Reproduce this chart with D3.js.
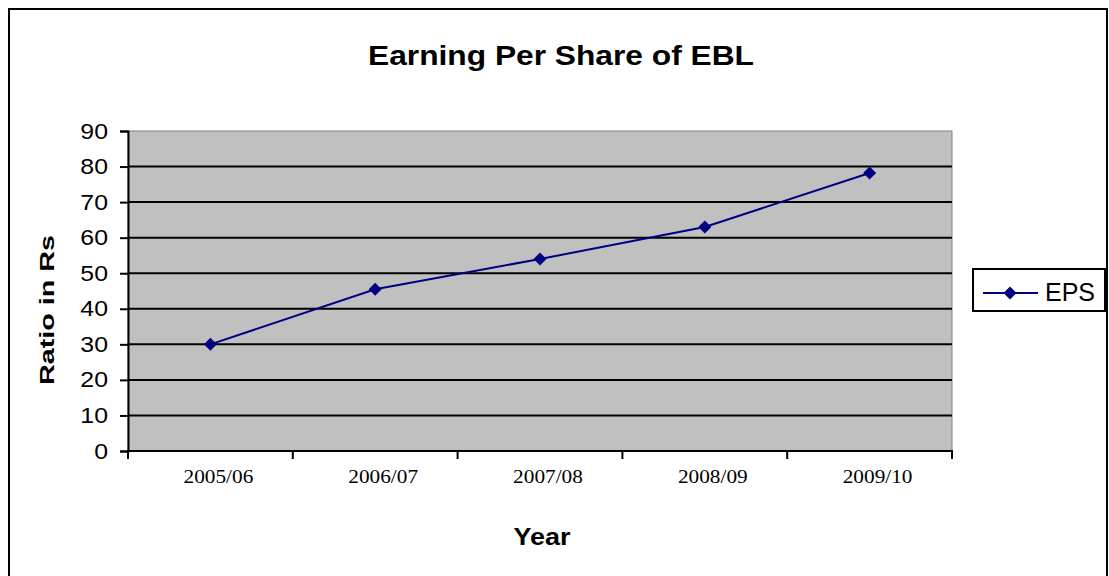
<!DOCTYPE html>
<html lang="en">
<head>
    <meta charset="UTF-8">
    <title>Earning Per Share of EBL</title>
    <script src="https://d3js.org/d3.v7.min.js"></script>
    <style>
        body { margin: 0; background: #fff; }
        svg { display: block; }
        .grid line { stroke: #000; stroke-width: 2px; }
        .line { fill: none; stroke: #000080; stroke-width: 2px; }
    </style>
</head>
<body>
    <svg width="1109" height="576"></svg>

    <script>
        // chart data
        const years = ["2005/06", "2006/07", "2007/08", "2008/09", "2009/10"];
        const eps = [30, 45.5, 54, 63, 78.2];
        const yTickValues = [0, 10, 20, 30, 40, 50, 60, 70, 80, 90];
        const seriesName = "EPS";

        const sans = "'Liberation Sans', Arial, sans-serif";
        const serif = "'Liberation Serif', 'Times New Roman', serif";

        const plot = { left: 128, top: 131, right: 952, bottom: 451 };

        // the original picture is a bit wider than it is tall, so text gets stretched
        function stretch(sel, k) {
            sel.each(function () {
                const w = this.getComputedTextLength();
                d3.select(this).attr("textLength", w * k).attr("lengthAdjust", "spacingAndGlyphs");
            });
        }

        const svg = d3.select("svg");

        // outer chart border
        svg.append("rect")
            .attr("x", 9).attr("y", 9)
            .attr("width", 1098).attr("height", 580)
            .attr("fill", "#fff")
            .attr("stroke", "#000").attr("stroke-width", 2);

        const x = d3.scaleBand().domain(years).range([plot.left, plot.right]);
        const y = d3.scaleLinear().domain([0, 90]).range([plot.bottom, plot.top]);

        // plot area
        svg.append("rect")
            .attr("x", plot.left).attr("y", plot.top)
            .attr("width", plot.right - plot.left)
            .attr("height", plot.bottom - plot.top)
            .attr("fill", "#c0c0c0")
            .attr("stroke", "#808080").attr("stroke-width", 1);

        // gridlines
        svg.append("g").attr("class", "grid")
            .selectAll("line")
            .data(yTickValues.filter(d => d > 0 && d < 90))
            .join("line")
            .attr("x1", plot.left).attr("x2", plot.right)
            .attr("y1", d => y(d)).attr("y2", d => y(d));

        // y axis
        const yAxis = svg.append("g")
            .attr("transform", `translate(${plot.left},0)`)
            .call(d3.axisLeft(y).tickValues(yTickValues).tickSize(8).tickPadding(12));
        yAxis.select(".domain").attr("stroke", "#000").attr("stroke-width", 2);
        yAxis.selectAll(".tick line").attr("stroke", "#000").attr("stroke-width", 2);
        yAxis.selectAll(".tick text")
            .attr("font-family", sans).attr("font-size", 22).attr("fill", "#000")
            .call(stretch, 1.13);

        // x axis line and category boundary ticks
        const xAxis = svg.append("g");
        xAxis.append("line")
            .attr("x1", plot.left - 1).attr("x2", plot.right + 1)
            .attr("y1", plot.bottom).attr("y2", plot.bottom)
            .attr("stroke", "#000").attr("stroke-width", 2);
        const bounds = years.map(d => x(d)).concat([x.range()[1]]);
        xAxis.selectAll(".xtick")
            .data(bounds)
            .join("line")
            .attr("class", "xtick")
            .attr("x1", d => d).attr("x2", d => d)
            .attr("y1", plot.bottom).attr("y2", plot.bottom + 8)
            .attr("stroke", "#000").attr("stroke-width", 2);
        xAxis.selectAll(".xlabel")
            .data(years)
            .join("text")
            .attr("class", "xlabel")
            .attr("x", d => x(d) + x.bandwidth() / 2 + 8)
            .attr("y", plot.bottom + 32)
            .attr("text-anchor", "middle")
            .attr("font-family", serif).attr("font-size", 19)
            .text(d => d)
            .call(stretch, 1.12);

        // line + markers
        const pts = years.map((d, i) => ({ year: d, value: eps[i] }));
        const line = d3.line()
            .x(d => x(d.year) + x.bandwidth() / 2)
            .y(d => y(d.value));
        svg.append("path")
            .datum(pts)
            .attr("class", "line")
            .attr("d", line);

        const marker = d3.symbol().type(d3.symbolSquare).size(85);
        svg.append("g").selectAll("path")
            .data(pts)
            .join("path")
            .attr("transform", d => `translate(${x(d.year) + x.bandwidth() / 2},${y(d.value)}) rotate(45)`)
            .attr("d", marker)
            .attr("fill", "#000080");

        // titles
        svg.append("text")
            .attr("x", 561).attr("y", 65)
            .attr("text-anchor", "middle")
            .attr("font-family", sans).attr("font-size", 28).attr("font-weight", "bold")
            .text("Earning Per Share of EBL")
            .attr("textLength", 386).attr("lengthAdjust", "spacingAndGlyphs");

        svg.append("text")
            .attr("x", 542).attr("y", 545)
            .attr("text-anchor", "middle")
            .attr("font-family", sans).attr("font-size", 24).attr("font-weight", "bold")
            .text("Year")
            .attr("textLength", 57).attr("lengthAdjust", "spacingAndGlyphs");

        svg.append("text")
            .attr("transform", "translate(54,310) rotate(-90)")
            .attr("text-anchor", "middle")
            .attr("font-family", sans).attr("font-size", 21).attr("font-weight", "bold")
            .text("Ratio in Rs")
            .attr("textLength", 150).attr("lengthAdjust", "spacingAndGlyphs");

        // legend
        const lg = svg.append("g").attr("transform", "translate(973,269)");
        lg.append("rect")
            .attr("width", 132).attr("height", 42)
            .attr("fill", "#fff").attr("stroke", "#000").attr("stroke-width", 2);
        lg.append("line")
            .attr("x1", 10).attr("x2", 65).attr("y1", 24).attr("y2", 24)
            .attr("stroke", "#000080").attr("stroke-width", 2);
        lg.append("path")
            .attr("transform", "translate(37,24) rotate(45)")
            .attr("d", marker)
            .attr("fill", "#000080");
        lg.append("text")
            .attr("x", 72).attr("y", 32)
            .attr("font-family", sans).attr("font-size", 25)
            .text(seriesName);
    </script>
</body>
</html>
